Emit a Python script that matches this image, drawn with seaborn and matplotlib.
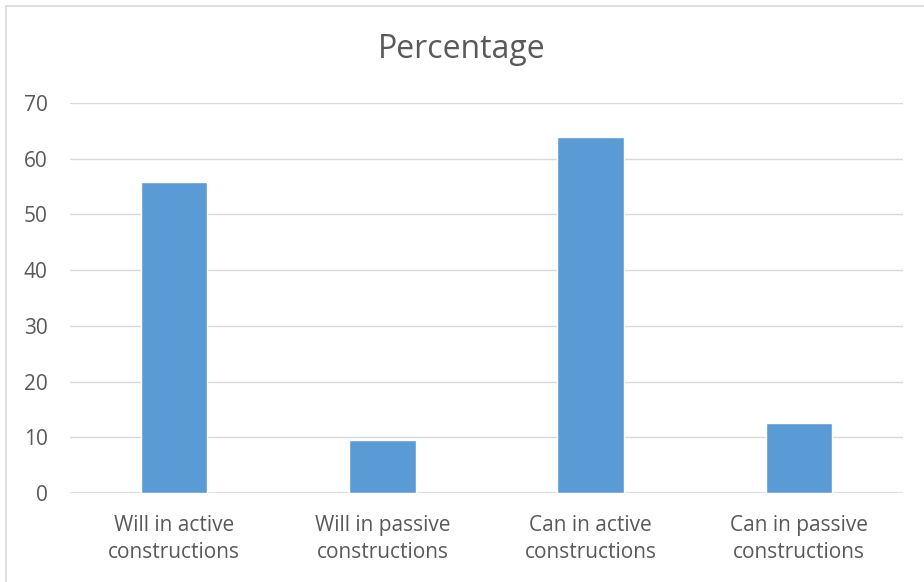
import matplotlib
matplotlib.use("Agg")
import matplotlib.pyplot as plt
import seaborn as sns
import pandas as pd
from matplotlib.patches import Rectangle

categories = ["Will in active\nconstructions", "Will in passive\nconstructions",
              "Can in active\nconstructions", "Can in passive\nconstructions"]
values = [55.8, 9.5, 63.9, 12.6]
yticks = [0, 10, 20, 30, 40, 50, 60, 70]

sns.set_theme(style="white")
plt.rcParams["font.family"] = ["Open Sans", "DejaVu Sans"]

df = pd.DataFrame({"category": categories, "value": values})

fig = plt.figure(figsize=(9.24, 5.82), dpi=100)
ax = fig.add_axes([70 / 924, 1 - 493 / 582, 833 / 924, 390 / 582])

sns.barplot(data=df, x="category", y="value", color="#5B9BD5", width=0.32,
            saturation=1, ax=ax, zorder=3)

ax.set_ylim(0, 70)
ax.set_xlim(-0.5, 3.5)
ax.set_yticks(yticks)
ax.yaxis.grid(True, color="#D9D9D9", linewidth=1, zorder=0)
ax.set_axisbelow(True)
for s in ax.spines.values():
    s.set_visible(False)
ax.axhline(0, color="#D9D9D9", linewidth=1.2, zorder=1)
ax.set_xlabel("")
ax.set_ylabel("")
ax.tick_params(axis="y", labelsize=15, labelcolor="#595959", length=0, pad=16)
ax.tick_params(axis="x", labelsize=15, labelcolor="#595959", length=0, pad=16)
for lab in ax.get_xticklabels():
    lab.set_linespacing(1.38)

fig.text(0.5, 1 - 50 / 582, "Percentage", ha="center", va="center",
         fontsize=23, color="#595959")

# Chart frame
fig.patches.append(Rectangle((6 / 924, -0.05), 1.0, 1 - 6 / 582 + 0.05,
                             transform=fig.transFigure, fill=False,
                             edgecolor="#D9D9D9", linewidth=1.2))

fig.savefig("out.png", dpi=100, facecolor="white")
